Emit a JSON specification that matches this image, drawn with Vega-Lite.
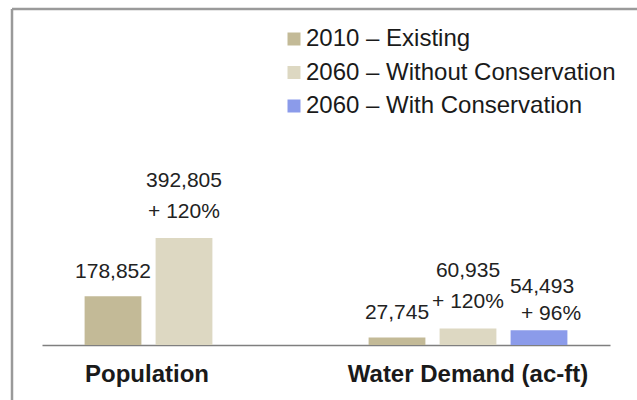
{
  "$schema": "https://vega.github.io/schema/vega-lite/v6.json",
  "width": 625,
  "height": 391,
  "autosize": "none",
  "padding": {"left": 12, "top": 9, "right": 0, "bottom": 0},
  "background": "white",
  "config": {
    "font": "Liberation Sans",
    "view": {"stroke": "#9a9a9a", "strokeWidth": 2.5, "strokeDash": [625, 1016, 391, 0]}
  },
  "data": {
    "values": [
      {"category": "Population", "series": "2010 – Existing", "value": 178852, "change": ""},
      {"category": "Population", "series": "2060 – Without Conservation", "value": 392805, "change": "+ 120%"},
      {"category": "Water Demand (ac-ft)", "series": "2010 – Existing", "value": 27745, "change": ""},
      {"category": "Water Demand (ac-ft)", "series": "2060 – Without Conservation", "value": 60935, "change": "+ 120%"},
      {"category": "Water Demand (ac-ft)", "series": "2060 – With Conservation", "value": 54493, "change": "+ 96%"}
    ]
  },
  "encoding": {
    "x": {
      "field": "category",
      "type": "nominal",
      "sort": ["Population", "Water Demand (ac-ft)"],
      "scale": {"range": [30, 598], "paddingInner": 0, "paddingOuter": 0},
      "axis": {
        "title": null,
        "orient": "bottom",
        "offset": -55,
        "ticks": false,
        "grid": false,
        "domainColor": "#7f7f7f",
        "domainWidth": 1.5,
        "labelAngle": 0,
        "labelFont": "Liberation Sans",
        "labelFontSize": 24,
        "labelFontWeight": "bold",
        "labelColor": "#1a1a1a",
        "labelPadding": 17,
        "labelLimit": 400,
        "labelOffset": {"condition": {"test": "datum.value == 'Population'", "value": -37}, "value": 0}
      }
    },
    "xOffset": {
      "field": "series",
      "type": "nominal",
      "scale": {
        "domain": ["2010 – Existing", "2060 – Without Conservation", "2060 – With Conservation"],
        "paddingInner": 0.2,
        "paddingOuter": 0.6
      }
    },
    "y": {
      "field": "value",
      "type": "quantitative",
      "stack": null,
      "scale": {"domain": [-201900, 1233500], "nice": false, "zero": false},
      "axis": null
    }
  },
  "layer": [
    {
      "mark": {"type": "bar"},
      "encoding": {
        "y2": {"datum": 0},
        "color": {
          "field": "series",
          "type": "nominal",
          "scale": {
            "domain": ["2010 – Existing", "2060 – Without Conservation", "2060 – With Conservation"],
            "range": ["#c3ba97", "#ddd8c2", "#8b9bea"]
          },
          "legend": {
            "orient": "none",
            "legendX": 270,
            "legendY": 18,
            "title": null,
            "padding": 0,
            "symbolType": "square",
            "symbolSize": 169,
            "symbolStrokeWidth": 0,
            "labelFont": "Liberation Sans",
            "labelFontSize": 24,
            "labelColor": "#1a1a1a",
            "labelOffset": 0,
            "labelLimit": 400,
            "rowPadding": 9.5
          }
        }
      }
    },
    {
      "transform": [{"filter": "datum.series == '2010 – Existing'"}],
      "mark": {"type": "text", "dy": -24, "fontSize": 21, "color": "#222222", "baseline": "middle"},
      "encoding": {"text": {"field": "value", "type": "quantitative", "format": ","}}
    },
    {
      "transform": [{"filter": "datum.series == '2060 – Without Conservation'"}],
      "mark": {"type": "text", "dy": -57, "fontSize": 21, "color": "#222222", "baseline": "middle"},
      "encoding": {"text": {"field": "value", "type": "quantitative", "format": ","}}
    },
    {
      "transform": [{"filter": "datum.series == '2060 – Without Conservation'"}],
      "mark": {"type": "text", "dy": -26, "fontSize": 21, "color": "#222222", "baseline": "middle"},
      "encoding": {"text": {"field": "change", "type": "nominal"}}
    },
    {
      "transform": [{"filter": "datum.series == '2060 – With Conservation'"}],
      "mark": {"type": "text", "dy": -43, "dx": 3, "fontSize": 21, "color": "#222222", "baseline": "middle"},
      "encoding": {"text": {"field": "value", "type": "quantitative", "format": ","}}
    },
    {
      "transform": [{"filter": "datum.series == '2060 – With Conservation'"}],
      "mark": {"type": "text", "dy": -16, "dx": 12, "fontSize": 21, "color": "#222222", "baseline": "middle"},
      "encoding": {"text": {"field": "change", "type": "nominal"}}
    }
  ]
}
